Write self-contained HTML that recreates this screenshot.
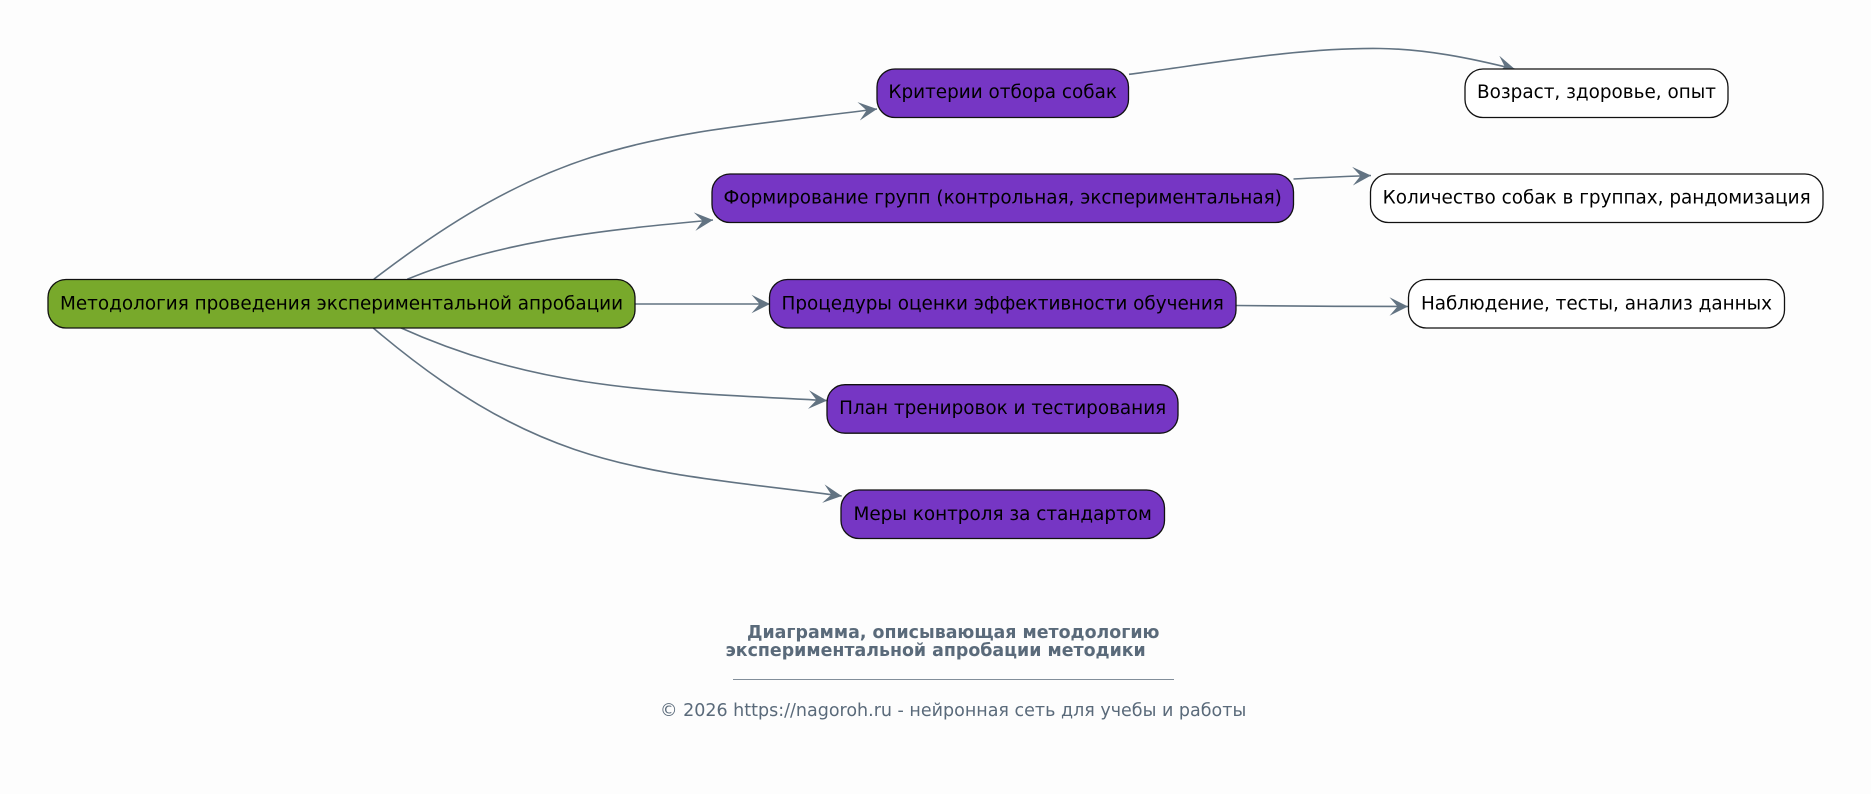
<!DOCTYPE html>
<html><head><meta charset="utf-8"><style>
html,body{margin:0;padding:0;background:#fdfdfd}
svg{display:block}
.n{stroke:#111;stroke-width:1.3}
.t{font-family:"DejaVu Sans",sans-serif;font-size:18.4px;fill:#000;text-anchor:middle}
.e{fill:none;stroke:#627382;stroke-width:1.6;marker-end:url(#a)}
.b{font-family:"DejaVu Sans",sans-serif;font-size:17.4px;font-weight:bold;fill:#5a6a7a}
.c{font-family:"DejaVu Sans",sans-serif;font-size:17.5px;fill:#5a6a7a}
</style></head><body>
<svg width="1871" height="794" viewBox="0 0 1871 794" xmlns="http://www.w3.org/2000/svg">
<defs><marker id="a" markerUnits="userSpaceOnUse" markerWidth="24" markerHeight="24" refX="18.5" refY="10" orient="auto"><path d="M0,0.7 L18.5,10 L0,19.3 L8,10 Z" fill="#627382"/></marker></defs>
<rect width="1871" height="794" fill="#fdfdfd"/>
<path class="e" d="M373.8,279.3 C560,136 656.5,136.8 877,109"/>
<path class="e" d="M407.2,279.3 C495,243 590,231 713,220"/>
<path class="e" d="M635,304 L770,304"/>
<path class="e" d="M400,327.5 C540,390.5 657,391.3 827,400.6"/>
<path class="e" d="M372.7,327.5 C542.7,472 641.7,470 841.7,496"/>
<path class="e" d="M1129,74.3 C1215,63 1300,47.5 1380,48.5 C1425,49 1470,58 1515,69.3"/>
<path class="e" d="M1293.5,179 C1320,177.5 1345,176.5 1371,175.5"/>
<path class="e" d="M1236,305.5 C1295,306 1350,306.5 1408,306.5"/>
<rect class="n" x="48" y="279.5" width="587" height="48.5" rx="18" fill="#78a92b"/>
<text class="t" x="341.5" y="309.5">Методология проведения экспериментальной апробации</text>
<rect class="n" x="877" y="69" width="251.5" height="48.5" rx="18" fill="#7636c4"/>
<text class="t" x="1002.7" y="98">Критерии отбора собак</text>
<rect class="n" x="712" y="174" width="581.5" height="48.5" rx="18" fill="#7636c4"/>
<text class="t" x="1002.7" y="203.5">Формирование групп (контрольная, экспериментальная)</text>
<rect class="n" x="769.5" y="279.5" width="466.5" height="48.5" rx="18" fill="#7636c4"/>
<text class="t" x="1002.7" y="309.5">Процедуры оценки эффективности обучения</text>
<rect class="n" x="827" y="384.7" width="351" height="48.5" rx="18" fill="#7636c4"/>
<text class="t" x="1002.7" y="414">План тренировок и тестирования</text>
<rect class="n" x="841" y="490" width="323.5" height="48.5" rx="18" fill="#7636c4"/>
<text class="t" x="1002.7" y="520">Меры контроля за стандартом</text>
<rect class="n" x="1465" y="69" width="263" height="48.5" rx="18" fill="#fff"/>
<text class="t" x="1596.5" y="98">Возраст, здоровье, опыт</text>
<rect class="n" x="1370.5" y="174" width="452.5" height="48.5" rx="18" fill="#fff"/>
<text class="t" x="1596.7" y="203.5">Количество собак в группах, рандомизация</text>
<rect class="n" x="1408.5" y="279.5" width="376" height="48.5" rx="18" fill="#fff"/>
<text class="t" x="1596.5" y="309.5">Наблюдение, тесты, анализ данных</text>
<text class="b" x="747" y="638">Диаграмма, описывающая методологию</text>
<text class="b" x="725.5" y="656">экспериментальной апробации методики</text>
<path d="M733,679.5 H1174" stroke="#5a6a7a" stroke-width="1" opacity=".75"/>
<text class="c" x="660" y="716">© 2026 https://nagoroh.ru - нейронная сеть для учебы и работы</text>
</svg>
</body></html>
